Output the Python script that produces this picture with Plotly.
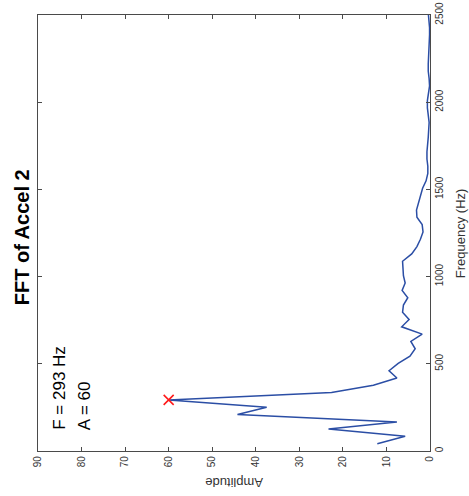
import plotly.graph_objects as go

freq_hz = [42, 84, 126, 167, 209, 251, 293, 335, 377, 419, 460, 502, 544, 586, 628,
           670, 712, 754, 795, 837, 879, 921, 963, 1005, 1047, 1088, 1130, 1172, 1214,
           1256, 1298, 1340, 1381, 1423, 1465, 1507, 1549, 1591, 1633, 1674, 1716, 1758,
           1800, 1842, 1884, 1926, 1967, 2009, 2051, 2093, 2135, 2177, 2219, 2260, 2302,
           2344, 2386, 2428, 2470, 2512]
amplitude = [12.1, 5.7, 23.3, 7.6, 44.2, 37.5, 60.0, 22.6, 13.0, 7.6, 9.4, 7.3, 4.6, 3.4, 4.4,
             1.8, 6.5, 4.8, 6.3, 6.1, 5.1, 6.4, 5.7, 6.1, 6.2, 6.3, 4.2, 3.0, 2.2,
             1.6, 1.8, 3.0, 3.1, 2.6, 2.2, 1.7, 0.9, 0.5, 0.5, 0.7, 0.7, 0.5,
             0.4, 0.3, 0.2, 0.4, 0.6, 0.6, 0.3, 0.1, 0.2, 0.4, 0.4, 0.3, 0.2,
             0.1, 0.1, 0.1, 0.3, 0.4]
peak_freq = [293]
peak_amp = [60]
amp_ticks = [0, 10, 20, 30, 40, 50, 60, 70, 80, 90]
freq_ticks = [0, 500, 1000, 1500, 2000, 2500]

FONT = "Liberation Sans, Arial, Helvetica, sans-serif"
AX = "#4a4a4a"

fig = go.Figure()
fig.add_trace(go.Scatter(x=amplitude, y=freq_hz, mode="lines",
                         line=dict(color="#2b4ea5", width=1.5), hoverinfo="skip"))
fig.add_trace(go.Scatter(x=peak_amp, y=peak_freq, mode="markers",
                         marker=dict(symbol="x-thin", size=10,
                                     line=dict(color="#ff1a1a", width=1.6)),
                         hoverinfo="skip"))

fig.update_layout(
    width=469, height=496,
    margin=dict(l=38, r=39, t=15, b=45),
    paper_bgcolor="white", plot_bgcolor="white",
    showlegend=False,
    font=dict(family=FONT, color="#333333"),
    xaxis=dict(range=[90, 0], tickvals=amp_ticks, ticktext=[str(v) for v in amp_ticks],
               tickangle=-90, ticks="inside", ticklen=4, tickwidth=1.2, tickcolor=AX,
               showline=True, linecolor=AX, linewidth=1.2, mirror="ticks",
               showgrid=False, zeroline=False, automargin=False,
               tickfont=dict(size=10, color="#333")),
    yaxis=dict(range=[0, 2500], tickvals=freq_ticks, ticktext=[str(v) for v in freq_ticks],
               side="right", tickangle=-90, ticks="inside", ticklen=4, tickwidth=1.2,
               tickcolor=AX, showline=True, linecolor=AX, linewidth=1.2, mirror="ticks",
               showgrid=False, zeroline=False, automargin=False,
               tickfont=dict(size=10, color="#333")),
    annotations=[
        dict(text="<b>FFT of Accel 2</b>", xref="paper", yref="paper", x=-0.041, y=0.49,
             textangle=-90, showarrow=False, xanchor="center", yanchor="middle",
             font=dict(size=20, color="black")),
        dict(text="Frequency (Hz)", xref="paper", yref="paper", x=1.077, y=0.5,
             textangle=-90, showarrow=False, xanchor="center", yanchor="middle",
             font=dict(size=13, color="#333")),
        dict(text="Amplitude", xref="paper", yref="paper", x=0.5, y=-0.071,
             textangle=180, showarrow=False, xanchor="center", yanchor="middle",
             font=dict(size=13, color="#333")),
        dict(text="F = 293 Hz", xref="paper", yref="paper", x=0.056, y=0.044,
             textangle=-90, showarrow=False, xanchor="center", yanchor="bottom",
             font=dict(size=17, color="black")),
        dict(text="A = 60", xref="paper", yref="paper", x=0.117, y=0.044,
             textangle=-90, showarrow=False, xanchor="center", yanchor="bottom",
             font=dict(size=17, color="black")),
    ],
)

fig.write_html("out.html", config={"displayModeBar": False},
               post_script="document.body.style.margin='0';document.body.style.overflow='hidden';")
